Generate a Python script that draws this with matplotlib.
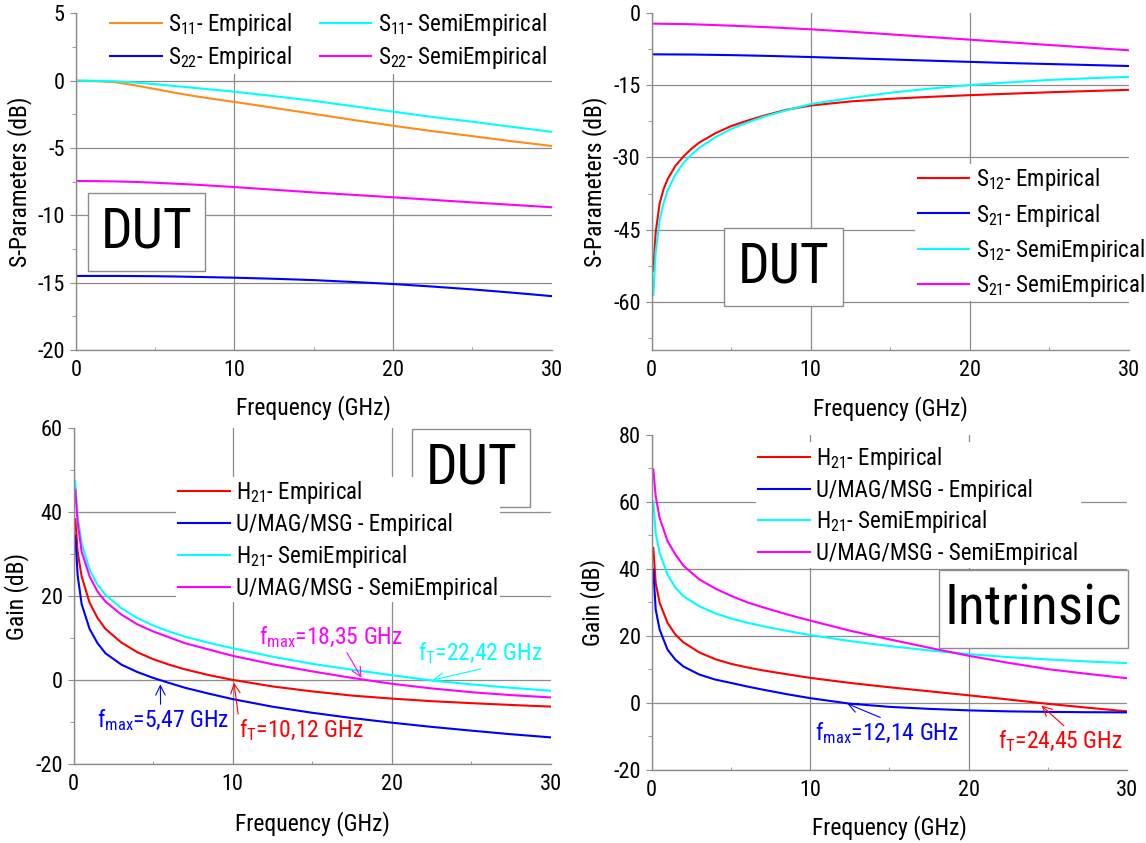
import matplotlib
matplotlib.use('Agg')
import matplotlib.pyplot as plt
from matplotlib.ticker import MultipleLocator
from matplotlib.patches import Rectangle
from matplotlib import font_manager

_avail = {f.name for f in font_manager.fontManager.ttflist}
_cands = ['Roboto Condensed', 'IBM Plex Sans Condensed', 'Liberation Sans Narrow',
          'Open Sans Condensed', 'DejaVu Sans']
FONT = next(c for c in _cands if c in _avail)
plt.rcParams['font.family'] = [FONT, 'DejaVu Sans']
plt.rcParams['mathtext.default'] = 'regular'
plt.rcParams['axes.unicode_minus'] = False

# ---------------- data ----------------
# Panel 1: S11 / S22 (DUT)
f1 = [0, 1.25, 2.5, 3.75, 5, 6.25, 7.5, 8.75, 10, 12.5, 15, 17.5, 20, 22.5, 25, 27.5, 30]
s11_emp = [0, -0.03, -0.12, -0.35, -0.62, -0.9, -1.15, -1.37, -1.58, -2.02, -2.47, -2.92,
           -3.35, -3.75, -4.12, -4.5, -4.85]
s11_semi = [0, -0.01, -0.05, -0.14, -0.26, -0.4, -0.54, -0.68, -0.82, -1.15, -1.5, -1.9,
            -2.3, -2.7, -3.05, -3.43, -3.8]
s22_emp = [-14.5, -14.5, -14.5, -14.51, -14.52, -14.54, -14.57, -14.6, -14.63, -14.71,
           -14.81, -14.95, -15.1, -15.29, -15.5, -15.74, -16.0]
s22_semi = [-7.45, -7.46, -7.48, -7.52, -7.58, -7.65, -7.72, -7.81, -7.9, -8.1, -8.3, -8.48,
            -8.66, -8.85, -9.04, -9.22, -9.4]

# Panel 2: S12 / S21 (DUT)
f2 = [0.1, 0.25, 0.5, 0.75, 1, 1.5, 2, 2.5, 3, 4, 5, 6, 7, 8.5, 10, 12.5, 15, 17.5, 20,
      22.5, 25, 27.5, 30]
s12_emp = [-53.5, -45.5, -39.5, -36.5, -34.5, -31.7, -29.8, -28.2, -26.9, -25.0, -23.5,
           -22.4, -21.4, -20.1, -19.25, -18.4, -17.85, -17.45, -17.1, -16.8, -16.5, -16.25, -16.0]
s12_semi = [-58.5, -49.5, -43.0, -39.4, -36.8, -33.5, -31.1, -29.4, -28.0, -25.8, -24.1,
            -22.8, -21.6, -20.2, -18.95, -17.7, -16.6, -15.75, -15.0, -14.45, -13.95, -13.6, -13.3]
f2b = [0.1, 2.5, 5, 7.5, 10, 12.5, 15, 17.5, 20, 22.5, 25, 27.5, 30]
s21_emp = [-8.64, -8.68, -8.8, -8.98, -9.2, -9.45, -9.7, -9.95, -10.2, -10.45, -10.65, -10.85, -11.06]
s21_semi = [-2.28, -2.4, -2.7, -3.05, -3.45, -3.95, -4.5, -5.05, -5.6, -6.15, -6.7, -7.25, -7.8]

# Panel 3: Gain (DUT)
f3 = [0.1, 0.25, 0.5, 1.0, 1.5, 2.0, 3.0, 4.0, 5.0, 6.0, 7.0, 8.5, 10, 12.5, 15, 17.5,
      20, 22.5, 25, 27.5, 30]
h21_emp3 = [38.3, 30.5, 24.7, 18.45, 14.8, 12.2, 8.96, 6.66, 5.0, 3.7, 2.58, 1.22, 0.08,
            -1.48, -2.66, -3.66, -4.37, -4.99, -5.46, -5.89, -6.28]
u_emp3 = [34.4, 24.9, 18.1, 12.2, 8.8, 6.4, 3.7, 1.95, 0.55, -0.65, -1.8, -3.2, -4.5, -6.3,
          -7.75, -9.0, -10.1, -11.1, -12.0, -12.85, -13.6]
h21_semi3 = [47.3, 39.0, 32.6, 26.3, 22.7, 20.3, 17.1, 14.8, 13.0, 11.6, 10.35, 8.9, 7.6,
             5.6, 3.9, 2.5, 1.2, -0.05, -1.0, -1.8, -2.5]
u_semi3 = [45.3, 37.4, 30.6, 24.7, 21.1, 18.7, 15.6, 13.3, 11.6, 10.2, 8.8, 7.3, 5.8, 3.8,
           2.1, 0.55, -0.85, -1.95, -2.85, -3.55, -4.1]

# Panel 4: Gain (Intrinsic)
f4 = [0.1, 0.25, 0.5, 1.0, 1.5, 2.0, 3.0, 4.0, 5.0, 6.0, 7.0, 8.5, 10, 12.5, 15, 17.5,
      20, 22.5, 25, 27.5, 30]
h21_emp4 = [46.3, 35.8, 29.9, 23.9, 20.4, 18.1, 15.1, 13.1, 11.7, 10.65, 9.75, 8.6, 7.5,
            6.0, 4.7, 3.5, 2.3, 1.05, -0.25, -1.4, -2.5]
u_emp4 = [39.8, 27.9, 21.9, 15.9, 12.9, 10.9, 8.5, 7.0, 6.0, 4.95, 4.0, 2.65, 1.45, -0.2,
          -1.15, -1.75, -2.2, -2.5, -2.65, -2.75, -2.8]
h21_semi4 = [60.2, 50.7, 44.8, 38.3, 34.4, 31.9, 28.9, 26.8, 25.25, 24.0, 22.95, 21.55,
             20.3, 18.5, 17.0, 15.7, 14.6, 13.7, 13.0, 12.4, 11.9]
u_semi4 = [69.7, 61.7, 55.2, 48.3, 44.3, 41.0, 36.9, 34.2, 32.0, 30.1, 28.6, 26.5, 24.6,
           21.6, 19.0, 16.5, 14.1, 12.0, 10.1, 8.7, 7.4]

# annotation values (GHz)
fmax3, ft3_emp, fmax3_semi, ft3_semi = 5.47, 10.12, 18.35, 22.42
fmax4, ft4 = 12.14, 24.45

# ---------------- styling ----------------
TFS = 16      # tick labels
LFS = 17      # axis labels / annotations
GFS = 16.5    # legends
ORANGE = '#ff8c1a'
CYAN = '#00ffff'
BLUE = '#0000ff'
MAGENTA = '#ff00ff'
RED = '#ff0000'
GRAY = '#8c8c8c'
LW = 1.5

fig = plt.figure(figsize=(11.46, 8.43), dpi=100)
ax1 = fig.add_axes([0.0661, 0.5848, 0.4154, 0.3994])
ax2 = fig.add_axes([0.5687, 0.5843, 0.4162, 0.4007])
ax3 = fig.add_axes([0.0643, 0.0934, 0.4162, 0.3989])
ax4 = fig.add_axes([0.5687, 0.0866, 0.4148, 0.3974])


def style(ax, ylim, ymaj, ymin, ylabel, ylx, xly):
    ax.set_xlim(0, 30)
    ax.set_ylim(*ylim)
    ax.xaxis.set_major_locator(MultipleLocator(10))
    ax.xaxis.set_minor_locator(MultipleLocator(5))
    ax.yaxis.set_major_locator(MultipleLocator(ymaj))
    ax.yaxis.set_minor_locator(MultipleLocator(ymin))
    for s in ['top', 'right']:
        ax.spines[s].set_visible(False)
    for s in ['left', 'bottom']:
        ax.spines[s].set_color(GRAY)
        ax.spines[s].set_linewidth(1.0)
    ax.set_axisbelow(True)
    ax.grid(True, which='major', color=GRAY, lw=0.9)
    ax.tick_params(axis='y', which='both', direction='out', color=GRAY, labelsize=TFS, pad=3.5)
    ax.tick_params(axis='y', which='major', length=4.5)
    ax.tick_params(axis='y', which='minor', length=3)
    ax.tick_params(axis='x', which='both', direction='in', color=GRAY, labelsize=TFS, pad=7)
    ax.tick_params(axis='x', which='major', length=0)
    ax.tick_params(axis='x', which='minor', length=2.5)
    ax.set_xlabel('Frequency (GHz)', fontsize=LFS)
    ax.set_ylabel(ylabel, fontsize=LFS)
    ax.yaxis.set_label_coords(ylx, 0.5)
    ax.xaxis.set_label_coords(0.5, xly)
    # no grid line along the open top / right edges
    ylocs = ax.yaxis.get_majorticklocs()
    for loc, t in zip(ylocs, ax.yaxis.get_major_ticks(len(ylocs))):
        if abs(loc - ylim[1]) < 1e-9:
            t.gridline.set_visible(False)
    xlocs = ax.xaxis.get_majorticklocs()
    for loc, t in zip(xlocs, ax.xaxis.get_major_ticks(len(xlocs))):
        if abs(loc - 30) < 1e-9:
            t.gridline.set_visible(False)


def tag(ax, x0, y0, x1, y1, text):
    ax.add_patch(Rectangle((x0, y0), x1 - x0, y1 - y0, transform=ax.transAxes,
                           fc='white', ec=GRAY, lw=1.0, zorder=5, clip_on=False))
    ax.text((x0 + x1) / 2, (y0 + y1) / 2, text, transform=ax.transAxes,
            ha='center', va='center', fontsize=40, zorder=6)


def leg(ax, ncol, anchor, spacing, colsp=1.1):
    lg = ax.legend(loc='upper left', bbox_to_anchor=anchor, ncol=ncol, fontsize=GFS,
                   frameon=True, facecolor='white', edgecolor='none', framealpha=1,
                   borderpad=0.1, borderaxespad=0, handlelength=2.25, handletextpad=0.28,
                   labelspacing=spacing, columnspacing=colsp)
    lg.get_frame().set_boxstyle('square', pad=0)
    return lg


def note(ax, text, color, xy, xytext, relpos):
    ax.annotate(text, xy=xy, xytext=xytext, color=color, fontsize=LFS, va='center',
                arrowprops=dict(arrowstyle='->', color=color, lw=0.8, shrinkA=0, shrinkB=0,
                                relpos=relpos))


def ghz(v):
    return ('%.2f' % v).replace('.', ',')


# Panel 1
ax1.plot(f1, s11_emp, color=ORANGE, lw=LW, label=r'S$_{11}$- Empirical')
ax1.plot(f1, s22_emp, color=BLUE, lw=LW, label=r'S$_{22}$- Empirical')
ax1.plot(f1, s11_semi, color=CYAN, lw=LW, label=r'S$_{11}$- SemiEmpirical')
ax1.plot(f1, s22_semi, color=MAGENTA, lw=LW, label=r'S$_{22}$- SemiEmpirical')
style(ax1, (-20, 5), 5, 2.5, 'S-Parameters (dB)', -0.092, -0.135)
leg(ax1, 2, (0.068, 1.015), 0.3, colsp=1.2)
tag(ax1, 0.0248, 0.2346, 0.2724, 0.4654, 'DUT')

# Panel 2
ax2.plot(f2, s12_emp, color=RED, lw=LW, label=r'S$_{12}$- Empirical')
ax2.plot(f2b, s21_emp, color=BLUE, lw=LW, label=r'S$_{21}$- Empirical')
ax2.plot(f2, s12_semi, color=CYAN, lw=LW, label=r'S$_{12}$- SemiEmpirical')
ax2.plot(f2b, s21_semi, color=MAGENTA, lw=LW, label=r'S$_{21}$- SemiEmpirical')
style(ax2, (-70, 0), 15, 7.5, 'S-Parameters (dB)', -0.094, -0.135)
leg(ax2, 1, (0.553, 0.552), 0.36)
tag(ax2, 0.1524, 0.1314, 0.40, 0.3615, 'DUT')

# Panel 3
ax3.plot(f3, h21_emp3, color=RED, lw=LW, label=r'H$_{21}$- Empirical')
ax3.plot(f3, u_emp3, color=BLUE, lw=LW, label='U/MAG/MSG - Empirical')
ax3.plot(f3, h21_semi3, color=CYAN, lw=LW, label=r'H$_{21}$- SemiEmpirical')
ax3.plot(f3, u_semi3, color=MAGENTA, lw=LW, label='U/MAG/MSG - SemiEmpirical')
style(ax3, (-20, 60), 20, 10, 'Gain (dB)', -0.0945, -0.138)
leg(ax3, 1, (0.214, 0.855), 0.3)
tag(ax3, 0.7103, 0.7642, 0.9575, 0.9961, 'DUT')

note(ax3, r'f$_{max}$=%s GHz' % ghz(fmax3_semi), MAGENTA, (18.1, 0.6), (11.65, 10.3), (0.6, 0.0))
note(ax3, r'f$_{T}$=%s GHz' % ghz(ft3_semi), CYAN, (22.6, 0.07), (21.65, 6.4), (0.6, 0.0))
note(ax3, r'f$_{max}$=%s GHz' % ghz(fmax3), BLUE, (5.45, -1.0), (1.47, -9.45), (0.48, 1.0))
note(ax3, r'f$_{T}$=%s GHz' % ghz(ft3_emp), RED, (10.08, -0.6), (10.37, -11.8), (0.0, 1.0))

# Panel 4
ax4.plot(f4, h21_emp4, color=RED, lw=LW, label=r'H$_{21}$- Empirical')
ax4.plot(f4, u_emp4, color=BLUE, lw=LW, label='U/MAG/MSG - Empirical')
ax4.plot(f4, h21_semi4, color=CYAN, lw=LW, label=r'H$_{21}$- SemiEmpirical')
ax4.plot(f4, u_semi4, color=MAGENTA, lw=LW, label='U/MAG/MSG - SemiEmpirical')
style(ax4, (-20, 80), 20, 10, 'Gain (dB)', -0.098, -0.136)
leg(ax4, 1, (0.219, 0.978), 0.3)
tag(ax4, 0.6049, 0.3633, 1.0021, 0.597, 'Intrinsic')

note(ax4, r'f$_{max}$=%s GHz' % ghz(fmax4), BLUE, (12.34, -0.2), (10.3, -9.0), (0.5, 1.0))
note(ax4, r'f$_{T}$=%s GHz' % ghz(ft4), RED, (24.6, -0.8), (21.87, -11.5), (0.55, 1.0))

fig.savefig('out.png', dpi=100)
